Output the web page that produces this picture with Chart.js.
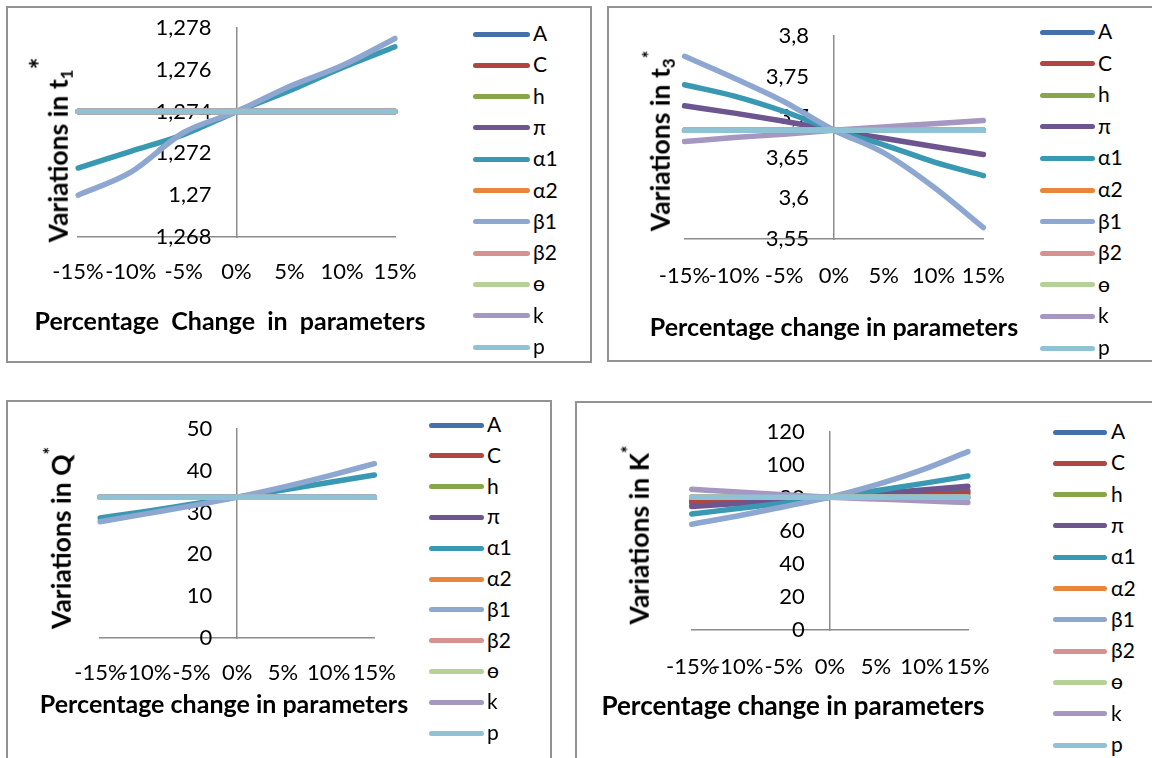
<!DOCTYPE html>
<html><head><meta charset="utf-8">
<script src="https://cdn.jsdelivr.net/npm/chart.js@4.4.1/dist/chart.umd.min.js"></script>
<style>
html,body{margin:0;padding:0;background:#fff;}
body{width:1152px;height:758px;overflow:hidden;position:relative;font-family:Lato,"DejaVu Sans",sans-serif;color:#000;}
.frame{position:absolute;box-sizing:border-box;border:2px solid #929292;}
canvas{position:absolute;}
.ytitle{position:absolute;font-weight:bold;font-size:26.5px;white-space:nowrap;line-height:1;transform:translate(-50%,-50%) rotate(-90deg);}
.xtitle{position:absolute;font-weight:bold;font-size:25px;white-space:pre;line-height:1;transform:translate(-50%,-50%);}
.sub{font-size:17px;position:relative;top:5px;}
.sup{font-size:18px;position:relative;top:-14px;}
.legline{position:absolute;height:5px;border-radius:3px;}
.legtext{position:absolute;font-size:21px;line-height:1;transform:translateY(-50%);white-space:nowrap;}
</style></head>
<body>
<div class="frame" style="left:6px;top:6px;width:586px;height:357px;"></div>
<div class="frame" style="left:607px;top:6px;width:600px;height:356px;"></div>
<div class="frame" style="left:6px;top:400px;width:546px;height:400px;"></div>
<div class="frame" style="left:575px;top:401px;width:600px;height:400px;"></div>
<canvas id="c1"></canvas>
<canvas id="c2"></canvas>
<canvas id="c3"></canvas>
<canvas id="c4"></canvas>
<div class="ytitle" style="left:57px;top:150px;">Variations in t<span class="sub">1</span><span class="sup" style="font-size:28px;top:-18px;">*</span></div>
<div class="xtitle" style="left:230px;top:320px;">Percentage  Change  in  parameters</div>
<div class="ytitle" style="left:660px;top:141px;">Variations in t<span class="sub">3</span><span class="sup">*</span></div>
<div class="xtitle" style="left:834px;top:326px;">Percentage change in parameters</div>
<div class="ytitle" style="left:61px;top:538px;">Variations in Q<span class="sup">*</span></div>
<div class="xtitle" style="left:224px;top:703px;">Percentage change in parameters</div>
<div class="ytitle" style="left:639px;top:535px;">Variations in K<span class="sup">*</span></div>
<div class="xtitle" style="left:793px;top:705px;font-size:26px;">Percentage change in parameters</div>
<script>
const categories = ['-15%', '-10%', '-5%', '0%', '5%', '10%', '15%'];
const seriesNames = ['A', 'C', 'h', 'π', 'α1', 'α2', 'β1', 'β2', 'ɵ', 'k', 'p'];
const seriesColors = ['#4470AB', '#B04541', '#88A54A', '#6D5590', '#3A99B2', '#E8873C', '#8EA7D0', '#D69291', '#B7CF98', '#A597C2', '#90C2D5'];

// tick labels
const t1Ticks = [1.268, 1.270, 1.272, 1.274, 1.276, 1.278];
const t3Ticks = [3.55, 3.60, 3.65, 3.70, 3.75, 3.80];
const qTicks = [0, 10, 20, 30, 40, 50];
const kTicks = [0, 20, 40, 60, 80, 100, 120];

// t1* values
const t1Flat = [1.274, 1.274, 1.274, 1.274, 1.274, 1.274, 1.274];
const t1Alpha1 = [1.2713, 1.2721, 1.2729, 1.2740, 1.2750, 1.2761, 1.2771];
const t1Beta1 = [1.2700, 1.2711, 1.2730, 1.2740, 1.2752, 1.2762, 1.2775];

// t3* values
const t3Flat = [3.684, 3.684, 3.684, 3.684, 3.684, 3.684, 3.684];
const t3Pi = [3.714, 3.705, 3.695, 3.684, 3.674, 3.664, 3.654];
const t3Alpha1 = [3.740, 3.726, 3.707, 3.684, 3.666, 3.645, 3.628];
const t3Beta1 = [3.775, 3.748, 3.719, 3.684, 3.656, 3.614, 3.564];
const t3K = [3.670, 3.675, 3.679, 3.684, 3.688, 3.692, 3.696];

// Q* values
const qFlat = [33.7, 33.7, 33.7, 33.7, 33.7, 33.7, 33.7];
const qAlpha1 = [28.7, 30.3, 32.0, 33.7, 35.4, 37.2, 39.0];
const qBeta1 = [27.8, 29.7, 31.6, 33.7, 36.1, 38.8, 41.7];

// K* values
const kFlat = [80.5, 80.5, 80.5, 80.5, 80.5, 80.5, 80.5];
const kA = [76.9, 78.1, 79.3, 80.5, 81.8, 83.1, 84.5];
const kC = [78.3, 79.0, 79.7, 80.5, 81.3, 82.1, 83.0];
const kPi = [74.8, 76.6, 78.5, 80.5, 82.6, 84.8, 87.1];
const kAlpha1 = [70.3, 73.6, 76.9, 80.5, 84.4, 88.7, 93.3];
const kBeta1 = [64.1, 69.1, 74.7, 80.5, 87.9, 97.0, 108.1];
const kK = [85.3, 83.6, 82.0, 80.5, 79.4, 78.3, 77.3];

//                A       C       h       π        α1        α2      β1       β2      ɵ       k       p
const t1Series = [t1Flat, t1Flat, t1Flat, t1Flat, t1Alpha1, t1Flat, t1Beta1, t1Flat, t1Flat, t1Flat, t1Flat];
const t3Series = [t3Flat, t3Flat, t3Flat, t3Pi, t3Alpha1, t3Flat, t3Beta1, t3Flat, t3Flat, t3K, t3Flat];
const qSeries = [qFlat, qFlat, qFlat, qFlat, qAlpha1, qFlat, qBeta1, qFlat, qFlat, qFlat, qFlat];
const kSeries = [kA, kC, kFlat, kPi, kAlpha1, kFlat, kBeta1, kFlat, kFlat, kK, kFlat];

Chart.defaults.font.family = 'Lato, "DejaVu Sans", sans-serif';
Chart.defaults.color = '#000';

function fmt(v) {
  return String(Math.round(v * 1000) / 1000).replace('.', ',');
}

function makeChart(id, box, area, ticks, series, xPad) {
  const cv = document.getElementById(id);
  cv.width = box.w; cv.height = box.h;
  cv.style.left = box.x + 'px'; cv.style.top = box.y + 'px';
  cv.style.width = box.w + 'px'; cv.style.height = box.h + 'px';
  const xAxisH = 22 * 1.2 + 2 * xPad;
  const n = seriesNames.length;
  new Chart(cv, {
    type: 'line',
    data: {
      labels: categories,
      datasets: seriesNames.map((name, i) => ({
        label: name,
        data: series[i],
        borderColor: seriesColors[i],
        backgroundColor: seriesColors[i],
        borderWidth: 5.5,
        pointRadius: 0,
        pointHoverRadius: 0,
        cubicInterpolationMode: 'monotone',
        borderCapStyle: 'round',
        borderJoinStyle: 'round',
        fill: false,
        order: n - i
      }))
    },
    options: {
      responsive: false,
      animation: false,
      devicePixelRatio: 1,
      events: [],
      layout: {padding: {
        left: area.L - box.x,
        right: box.x + box.w - area.R,
        top: area.T - box.y,
        bottom: box.y + box.h - area.B - xAxisH
      }},
      plugins: {legend: {display: false}, tooltip: {enabled: false}},
      scales: {
        x: {
          type: 'category', offset: false,
          grid: {display: false, drawTicks: false},
          border: {display: true, color: '#8c8c8c', width: 1.5},
          ticks: {autoSkip: false, maxRotation: 0, minRotation: 0, padding: xPad, color: '#000', font: {size: 22}}
        },
        y: {
          type: 'linear', position: 'center',
          min: ticks[0], max: ticks[ticks.length - 1],
          afterBuildTicks: s => { s.ticks = ticks.map(v => ({value: v})); },
          grid: {display: false, drawTicks: false},
          border: {display: true, color: '#8c8c8c', width: 1.5},
          ticks: {padding: 25, color: '#000', font: {size: 22}, callback: v => fmt(v)}
        }
      }
    }
  });
}

function makeLegend(x1, x2, tx, y0, dy) {
  seriesNames.forEach((name, i) => {
    const y = y0 + dy * i;
    const ln = document.createElement('div');
    ln.className = 'legline';
    ln.style.left = x1 + 'px'; ln.style.width = (x2 - x1) + 'px';
    ln.style.top = (y - 2.5) + 'px'; ln.style.background = seriesColors[i];
    document.body.appendChild(ln);
    const tx_ = document.createElement('div');
    tx_.className = 'legtext';
    tx_.style.left = tx + 'px'; tx_.style.top = (y - 2) + 'px';
    tx_.textContent = name;
    document.body.appendChild(tx_);
  });
}

// canvas top sits 40px above the plot top (room for the y-axis label padding Chart.js reserves)
makeChart('c1', {x: 8, y: -12, w: 450, h: 365}, {L: 78, R: 395, T: 28, B: 237}, t1Ticks, t1Series, 22);
makeChart('c2', {x: 609, y: -4, w: 420, h: 357}, {L: 684.5, R: 984.5, T: 36, B: 239}, t3Ticks, t3Series, 24);
makeChart('c3', {x: 8, y: 389, w: 410, h: 353}, {L: 100, R: 375, T: 429, B: 638}, qTicks, qSeries, 22);
makeChart('c4', {x: 577, y: 392, w: 460, h: 351}, {L: 691.7, R: 968, T: 432, B: 630}, kTicks, kSeries, 24);

makeLegend(473, 530, 533, 34, 31.3);
makeLegend(1040, 1095, 1098, 32, 31.6);
makeLegend(429, 484, 487, 425, 30.8);
makeLegend(1053, 1107, 1111, 432, 31.3);
</script>
</body></html>
